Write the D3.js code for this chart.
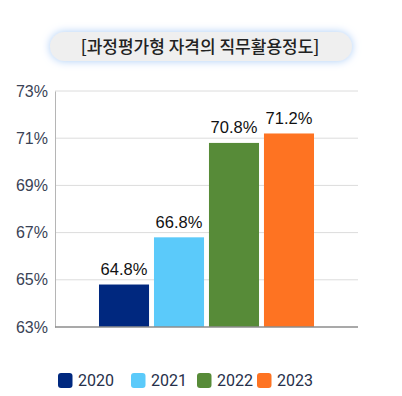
<!DOCTYPE html>
<html>
<head>
<meta charset="utf-8">
<script src="https://cdn.jsdelivr.net/npm/d3@7"></script>
<style>
  body { margin: 0; background: #fff; }
  svg { display: block; }
</style>
</head>
<body>
<div id="chart-area"></div>
<script>
// data
var years = ["2020", "2021", "2022", "2023"];
var rates = [64.8, 66.8, 70.8, 71.2];
var colors = ["#00287f", "#5bcafa", "#578b38", "#fe7322"];
var yTicks = [63, 65, 67, 69, 71, 73];
var title = "[과정평가형 자격의 직무활용정도]";

var width = 402;
var height = 396;

var svg = d3.select("#chart-area")
    .append("svg")
    .attr("width", width)
    .attr("height", height);

// glow for the title box
var defs = svg.append("defs");
var glow = defs.append("filter")
    .attr("id", "glow")
    .attr("x", "-20%").attr("y", "-100%")
    .attr("width", "140%").attr("height", "300%");
glow.append("feGaussianBlur")
    .attr("in", "SourceAlpha")
    .attr("stdDeviation", 4.5)
    .attr("result", "blur");
glow.append("feFlood").attr("flood-color", "#a9ccf7").attr("result", "col");
glow.append("feComposite").attr("in", "col").attr("in2", "blur").attr("operator", "in").attr("result", "shadow");
var merge = glow.append("feMerge");
merge.append("feMergeNode").attr("in", "shadow");
merge.append("feMergeNode").attr("in", "SourceGraphic");

svg.append("rect")
    .attr("x", 50)
    .attr("y", 32)
    .attr("width", 302)
    .attr("height", 29)
    .attr("rx", 14.5)
    .attr("fill", "#efefef")
    .attr("filter", "url(#glow)");

svg.append("text")
    .attr("x", 200)
    .attr("y", 52.5)
    .attr("text-anchor", "middle")
    .attr("font-family", "'Noto Sans CJK KR', sans-serif")
    .attr("font-weight", 500)
    .attr("font-size", "17px")
    .attr("fill", "#222")
    .text(title);

// scales
var x = d3.scaleBand()
    .domain(years)
    .range([55, 358])
    .paddingInner(0.09)
    .paddingOuter(0.8);

var y = d3.scaleLinear()
    .domain([63, 73])
    .range([327, 91]);

// grid lines
svg.append("g")
    .selectAll("line")
    .data(yTicks.slice(1))
    .enter()
    .append("line")
    .attr("x1", 55)
    .attr("x2", 358)
    .attr("y1", function(d) { return y(d); })
    .attr("y2", function(d) { return y(d); })
    .attr("stroke", "#dcdcdc")
    .attr("stroke-width", 1);

// y axis
var yAxisCall = d3.axisLeft(y)
    .tickValues(yTicks)
    .tickSize(0)
    .tickPadding(7)
    .tickFormat(function(d) { return d + "%"; });

var yAxisGroup = svg.append("g")
    .attr("transform", "translate(55,0)")
    .call(yAxisCall);
yAxisGroup.select(".domain").attr("stroke", "#b5b5b5");
yAxisGroup.selectAll("text")
    .attr("font-family", "'Liberation Sans', Arial, sans-serif")
    .attr("font-size", "16px")
    .attr("fill", "#3a4356");

// bars
svg.append("g")
    .selectAll("rect")
    .data(rates)
    .enter()
    .append("rect")
    .attr("x", function(d, i) { return x(years[i]); })
    .attr("width", x.bandwidth())
    .attr("y", function(d) { return y(d); })
    .attr("height", function(d) { return y(63) - y(d); })
    .attr("fill", function(d, i) { return colors[i]; });

// baseline
svg.append("line")
    .attr("x1", 55)
    .attr("x2", 358)
    .attr("y1", y(63))
    .attr("y2", y(63))
    .attr("stroke", "#8c8c8c")
    .attr("stroke-width", 1.5);

// value labels
svg.append("g")
    .selectAll("text")
    .data(rates)
    .enter()
    .append("text")
    .attr("x", function(d, i) { return x(years[i]) + x.bandwidth() / 2; })
    .attr("y", function(d) { return y(d) - 9.5; })
    .attr("text-anchor", "middle")
    .attr("font-family", "'Liberation Sans', Arial, sans-serif")
    .attr("font-size", "16.5px")
    .attr("fill", "#111")
    .text(function(d) { return d.toFixed(1) + "%"; });

// legend
var legendX = [58, 131, 197, 257];
var legend = svg.append("g")
    .selectAll("g")
    .data(years)
    .enter()
    .append("g")
    .attr("transform", function(d, i) { return "translate(" + legendX[i] + ",373)"; });

legend.append("rect")
    .attr("width", 14.5)
    .attr("height", 15)
    .attr("rx", 3)
    .attr("fill", function(d, i) { return colors[i]; });

legend.append("text")
    .attr("x", 20)
    .attr("y", 13)
    .attr("font-family", "Roboto, 'Noto Sans', sans-serif")
    .attr("font-size", "16px")
    .attr("fill", "#26304a")
    .text(function(d) { return d; });
</script>
</body>
</html>
